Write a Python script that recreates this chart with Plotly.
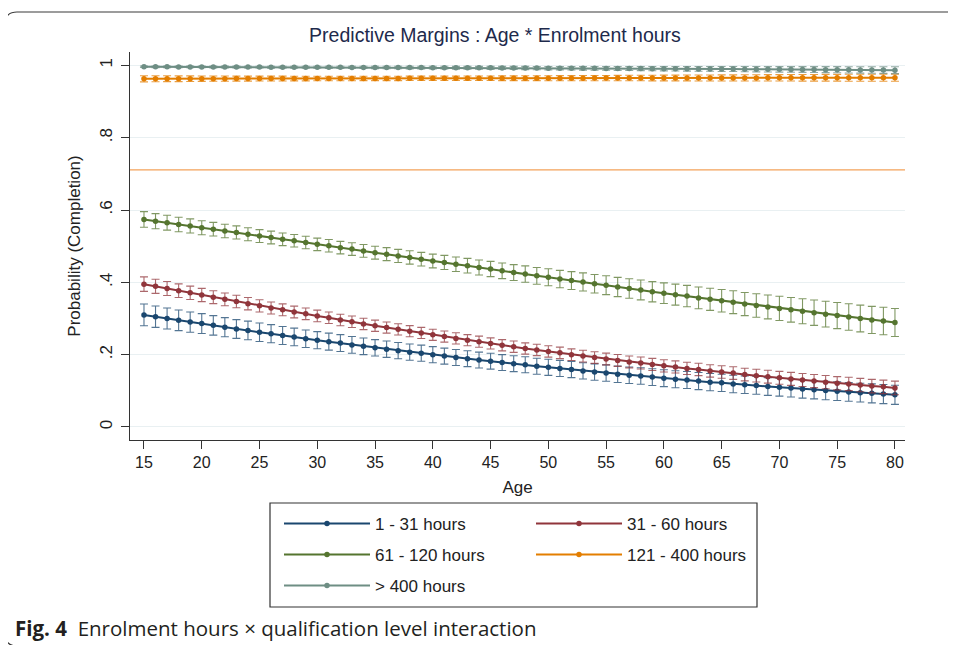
import plotly.graph_objects as go

# ---------------- data ----------------
ages = list(range(15, 81))

p_1_31 = [0.310, 0.305, 0.300, 0.295, 0.290, 0.286, 0.281, 0.276, 0.271, 0.267,
          0.262, 0.258, 0.253, 0.249, 0.244, 0.240, 0.236, 0.232, 0.227, 0.223,
          0.219, 0.215, 0.211, 0.207, 0.204, 0.200, 0.196, 0.192, 0.189, 0.185,
          0.182, 0.178, 0.175, 0.172, 0.168, 0.165, 0.162, 0.159, 0.155, 0.152,
          0.149, 0.146, 0.143, 0.141, 0.138, 0.135, 0.132, 0.130, 0.127, 0.124,
          0.122, 0.119, 0.117, 0.115, 0.112, 0.110, 0.108, 0.105, 0.103, 0.101,
          0.099, 0.097, 0.095, 0.093, 0.091, 0.089]
ci_1_31 = [0.0300, 0.0295, 0.0290, 0.0285, 0.0280, 0.0275, 0.0270, 0.0265, 0.0260, 0.0258,
           0.0255, 0.0250, 0.0247, 0.0244, 0.0241, 0.0238, 0.0235, 0.0233, 0.0231, 0.0229,
           0.0227, 0.0226, 0.0225, 0.0224, 0.0223, 0.0222, 0.0221, 0.0221, 0.0220, 0.0220,
           0.0220, 0.0220, 0.0220, 0.0221, 0.0221, 0.0222, 0.0223, 0.0224, 0.0225, 0.0226,
           0.0227, 0.0228, 0.0229, 0.0230, 0.0231, 0.0233, 0.0234, 0.0236, 0.0237, 0.0239,
           0.0240, 0.0242, 0.0243, 0.0245, 0.0246, 0.0248, 0.0250, 0.0251, 0.0253, 0.0255,
           0.0257, 0.0258, 0.0260, 0.0262, 0.0264, 0.0266]

p_31_60 = [0.395, 0.389, 0.383, 0.377, 0.371, 0.365, 0.359, 0.353, 0.347, 0.341,
           0.335, 0.329, 0.324, 0.318, 0.313, 0.307, 0.302, 0.296, 0.291, 0.285,
           0.280, 0.275, 0.270, 0.265, 0.260, 0.255, 0.250, 0.245, 0.240, 0.236,
           0.231, 0.226, 0.222, 0.217, 0.213, 0.209, 0.205, 0.200, 0.196, 0.192,
           0.188, 0.184, 0.180, 0.177, 0.173, 0.169, 0.166, 0.162, 0.159, 0.155,
           0.152, 0.149, 0.145, 0.142, 0.139, 0.136, 0.133, 0.130, 0.127, 0.124,
           0.121, 0.119, 0.116, 0.113, 0.111, 0.108]
ci_31_60 = [0.0200, 0.0196, 0.0192, 0.0188, 0.0185, 0.0182, 0.0179, 0.0176, 0.0173, 0.0171,
            0.0169, 0.0167, 0.0165, 0.0163, 0.0162, 0.0161, 0.0160, 0.0159, 0.0158, 0.0157,
            0.0156, 0.0155, 0.0155, 0.0154, 0.0154, 0.0154, 0.0154, 0.0154, 0.0154, 0.0154,
            0.0155, 0.0155, 0.0156, 0.0156, 0.0157, 0.0158, 0.0159, 0.0160, 0.0161, 0.0162,
            0.0163, 0.0164, 0.0165, 0.0166, 0.0167, 0.0168, 0.0169, 0.0170, 0.0171, 0.0172,
            0.0173, 0.0174, 0.0175, 0.0176, 0.0177, 0.0178, 0.0179, 0.0180, 0.0181, 0.0182,
            0.0183, 0.0184, 0.0185, 0.0186, 0.0187, 0.0188]

p_61_120 = [0.574, 0.569, 0.565, 0.560, 0.556, 0.551, 0.547, 0.542, 0.538, 0.533,
            0.528, 0.524, 0.519, 0.515, 0.510, 0.505, 0.501, 0.496, 0.492, 0.487,
            0.482, 0.478, 0.473, 0.469, 0.464, 0.459, 0.455, 0.450, 0.446, 0.441,
            0.437, 0.432, 0.427, 0.423, 0.418, 0.414, 0.409, 0.405, 0.401, 0.396,
            0.392, 0.387, 0.383, 0.379, 0.374, 0.370, 0.366, 0.362, 0.357, 0.353,
            0.349, 0.345, 0.340, 0.336, 0.332, 0.328, 0.324, 0.320, 0.316, 0.312,
            0.308, 0.304, 0.300, 0.296, 0.293, 0.289]
ci_61_120 = [0.0215, 0.0210, 0.0205, 0.0200, 0.0196, 0.0192, 0.0188, 0.0185, 0.0182, 0.0180,
             0.0178, 0.0176, 0.0175, 0.0174, 0.0173, 0.0173, 0.0173, 0.0174, 0.0175, 0.0176,
             0.0178, 0.0180, 0.0182, 0.0185, 0.0188, 0.0191, 0.0195, 0.0199, 0.0203, 0.0207,
             0.0211, 0.0216, 0.0221, 0.0226, 0.0231, 0.0236, 0.0241, 0.0246, 0.0251, 0.0256,
             0.0261, 0.0266, 0.0271, 0.0276, 0.0281, 0.0286, 0.0291, 0.0296, 0.0301, 0.0306,
             0.0311, 0.0316, 0.0321, 0.0326, 0.0331, 0.0336, 0.0341, 0.0346, 0.0351, 0.0356,
             0.0361, 0.0366, 0.0371, 0.0376, 0.0381, 0.0386]

p_121_400 = [0.9630, 0.9630, 0.9631, 0.9631, 0.9632, 0.9632, 0.9633, 0.9633, 0.9634, 0.9634,
             0.9635, 0.9635, 0.9636, 0.9636, 0.9636, 0.9637, 0.9637, 0.9638, 0.9638, 0.9639,
             0.9639, 0.9640, 0.9640, 0.9641, 0.9641, 0.9642, 0.9642, 0.9642, 0.9643, 0.9643,
             0.9644, 0.9644, 0.9645, 0.9645, 0.9646, 0.9646, 0.9647, 0.9647, 0.9647, 0.9648,
             0.9648, 0.9649, 0.9649, 0.9650, 0.9650, 0.9651, 0.9651, 0.9652, 0.9652, 0.9653,
             0.9653, 0.9653, 0.9654, 0.9654, 0.9655, 0.9655, 0.9656, 0.9656, 0.9657, 0.9657,
             0.9658, 0.9658, 0.9659, 0.9659, 0.9659, 0.9660]
ci_121_400 = [0.0085, 0.0083, 0.0081, 0.0079, 0.0077, 0.0075, 0.0073, 0.0072, 0.0070, 0.0069,
              0.0068, 0.0067, 0.0066, 0.0065, 0.0064, 0.0063, 0.0063, 0.0062, 0.0062, 0.0061,
              0.0061, 0.0061, 0.0061, 0.0061, 0.0061, 0.0061, 0.0062, 0.0062, 0.0063, 0.0063,
              0.0064, 0.0065, 0.0066, 0.0067, 0.0068, 0.0069, 0.0070, 0.0071, 0.0072, 0.0073,
              0.0074, 0.0075, 0.0076, 0.0077, 0.0078, 0.0079, 0.0080, 0.0081, 0.0082, 0.0083,
              0.0084, 0.0085, 0.0086, 0.0087, 0.0088, 0.0089, 0.0090, 0.0091, 0.0092, 0.0093,
              0.0094, 0.0095, 0.0096, 0.0097, 0.0098, 0.0099]

p_400 = [0.9960, 0.9959, 0.9959, 0.9958, 0.9957, 0.9956, 0.9955, 0.9955, 0.9954, 0.9953,
         0.9952, 0.9951, 0.9950, 0.9949, 0.9948, 0.9947, 0.9946, 0.9945, 0.9944, 0.9943,
         0.9942, 0.9941, 0.9940, 0.9939, 0.9938, 0.9937, 0.9936, 0.9934, 0.9933, 0.9932,
         0.9931, 0.9929, 0.9928, 0.9927, 0.9925, 0.9924, 0.9923, 0.9921, 0.9920, 0.9918,
         0.9917, 0.9915, 0.9914, 0.9912, 0.9910, 0.9909, 0.9907, 0.9905, 0.9903, 0.9902,
         0.9900, 0.9898, 0.9896, 0.9894, 0.9892, 0.9890, 0.9888, 0.9886, 0.9884, 0.9882,
         0.9880, 0.9877, 0.9875, 0.9873, 0.9871, 0.9868]
ci_400 = [0.0020, 0.0020, 0.0021, 0.0021, 0.0022, 0.0022, 0.0023, 0.0023, 0.0024, 0.0024,
          0.0025, 0.0026, 0.0026, 0.0027, 0.0028, 0.0028, 0.0029, 0.0030, 0.0031, 0.0031,
          0.0032, 0.0033, 0.0034, 0.0035, 0.0036, 0.0037, 0.0038, 0.0039, 0.0040, 0.0041,
          0.0042, 0.0043, 0.0044, 0.0045, 0.0046, 0.0047, 0.0048, 0.0050, 0.0051, 0.0052,
          0.0053, 0.0055, 0.0056, 0.0057, 0.0059, 0.0060, 0.0062, 0.0063, 0.0065, 0.0066,
          0.0068, 0.0069, 0.0071, 0.0073, 0.0074, 0.0076, 0.0078, 0.0079, 0.0081, 0.0083,
          0.0085, 0.0087, 0.0089, 0.0091, 0.0093, 0.0095]

series_names = ["1 - 31 hours", "31 - 60 hours", "61 - 120 hours", "121 - 400 hours", "> 400 hours"]
series_values = [p_1_31, p_31_60, p_61_120, p_121_400, p_400]
series_ci = [ci_1_31, ci_31_60, ci_61_120, ci_121_400, ci_400]

reference_line = 0.711  # horizontal reference line

y_tick_values = [0, 0.2, 0.4, 0.6, 0.8, 1.0]
y_tick_labels = ["0", ".2", ".4", ".6", ".8", "1"]
x_tick_values = list(range(15, 81, 5))

# ---------------- styling ----------------
colors = ["#1a476f", "#90353b", "#55752f", "#e37e00", "#6e8e84"]
ci_colors = ["rgba(26,71,111,0.75)", "rgba(144,53,59,0.75)", "rgba(85,117,47,0.75)",
             "rgba(227,126,0,0.75)", "rgba(110,142,132,0.75)"]
legend_rows = ["legend", "legend", "legend2", "legend2", "legend3"]

NARROW = "Liberation Sans Narrow, Arial Narrow, Liberation Sans, Arial, sans-serif"
REG = "Liberation Sans, Arial, sans-serif"

OFF = 8                      # page body margin in the browser
W, H = 956 - OFF, 645 - OFF
ML = 130 - OFF
MT = 52 - OFF
MR = W - (905 - OFF)
MB = H - (440 - OFF)
PW, PH = W - ML - MR, H - MT - MB


def px_to_paper(px, py):
    """screen pixel (in the 956x645 window) -> paper coords"""
    return (px - OFF - ML) / PW, (H - MB - (py - OFF)) / PH


fig = go.Figure()
for name, vals, ci, col, cicol, lg in zip(series_names, series_values, series_ci,
                                          colors, ci_colors, legend_rows):
    fig.add_trace(go.Scatter(
        x=ages, y=vals, name=name, mode="lines+markers", legend=lg,
        line=dict(color=col, width=2),
        marker=dict(color=col, size=5.5),
        error_y=dict(type="data", array=ci, symmetric=True, color=cicol,
                     thickness=1.1, width=4),
    ))

fig.add_shape(type="line", xref="paper", x0=0, x1=1, yref="y",
              y0=reference_line, y1=reference_line,
              line=dict(color="#f3a25a", width=1.3))

# legend frame
bx0, by0 = px_to_paper(270, 503)
bx1, by1 = px_to_paper(757, 607)
fig.add_shape(type="rect", xref="paper", yref="paper", x0=bx0, x1=bx1, y0=by0, y1=by1,
              line=dict(color="#333", width=1.2), fillcolor="rgba(0,0,0,0)")

# outer rounded frame (page decoration)
x0p, y0p = px_to_paper(5, 12)
x1p, _ = px_to_paper(1000, 12)
_, ybp = px_to_paper(5, 646)
r = 12
xr, _ = px_to_paper(5 + r, 12)
_, yr = px_to_paper(5, 12 + r)
_, ybr = px_to_paper(5, 646 - r)
fig.add_shape(type="path", xref="paper", yref="paper",
              path=f"M {x1p} {y0p} L {xr} {y0p} Q {x0p} {y0p} {x0p} {yr} L {x0p} {ybr} Q {x0p} {ybp} {xr} {ybp}",
              line=dict(color="#3a3a3a", width=1.2))

cx, cy = px_to_paper(13, 628)
fig.add_annotation(xref="paper", yref="paper", x=cx, y=cy, xanchor="left", yanchor="middle",
                   showarrow=False,
                   text="<b>Fig. 4</b>  Enrolment hours × qualification level interaction",
                   font=dict(family="Open Sans, Noto Sans, sans-serif", size=20.5, color="#231f20"))


def legend_row(py):
    lx, ly = px_to_paper(279, py)
    return dict(orientation="h", x=lx, y=ly, xanchor="left", yanchor="middle",
                itemwidth=86, bgcolor="rgba(0,0,0,0)", borderwidth=0,
                entrywidth=151, entrywidthmode="pixels",
                font=dict(family=REG, size=17, color="#222"))


fig.update_layout(
    width=W, height=H,
    margin=dict(l=ML, r=MR, t=MT, b=MB),
    paper_bgcolor="white", plot_bgcolor="white",
    title=dict(text="Predictive Margins : Age * Enrolment hours",
               x=(495 - OFF) / W, xanchor="center", y=1 - (35 - OFF) / H, yanchor="middle",
               font=dict(family=NARROW, size=19.5, color="#1e2a4c")),
    xaxis=dict(range=[13.79, 80.87], tickvals=x_tick_values, ticks="outside", ticklen=8,
               tickcolor="#333", showline=True, linecolor="#333", linewidth=1.2,
               showgrid=False, zeroline=False,
               tickfont=dict(family=NARROW, size=16, color="#222"),
               title=dict(text="Age", font=dict(family=NARROW, size=17, color="#222"), standoff=10)),
    yaxis=dict(range=[-0.036, 1.037], tickvals=y_tick_values, ticktext=y_tick_labels,
               tickangle=-90, ticks="outside", ticklen=8, tickcolor="#333",
               ticklabelstandoff=2,
               showline=True, linecolor="#333", linewidth=1.2,
               showgrid=True, gridcolor="#e9f0f2", gridwidth=1, zeroline=False,
               tickfont=dict(family=NARROW, size=17, color="#222"),
               title=dict(text="Probability (Completion)",
                          font=dict(family=REG, size=17, color="#222"), standoff=12)),
    legend=legend_row(524),
    legend2=legend_row(555),
    legend3=legend_row(586),
    showlegend=True,
)

fig.write_html("out.html")
